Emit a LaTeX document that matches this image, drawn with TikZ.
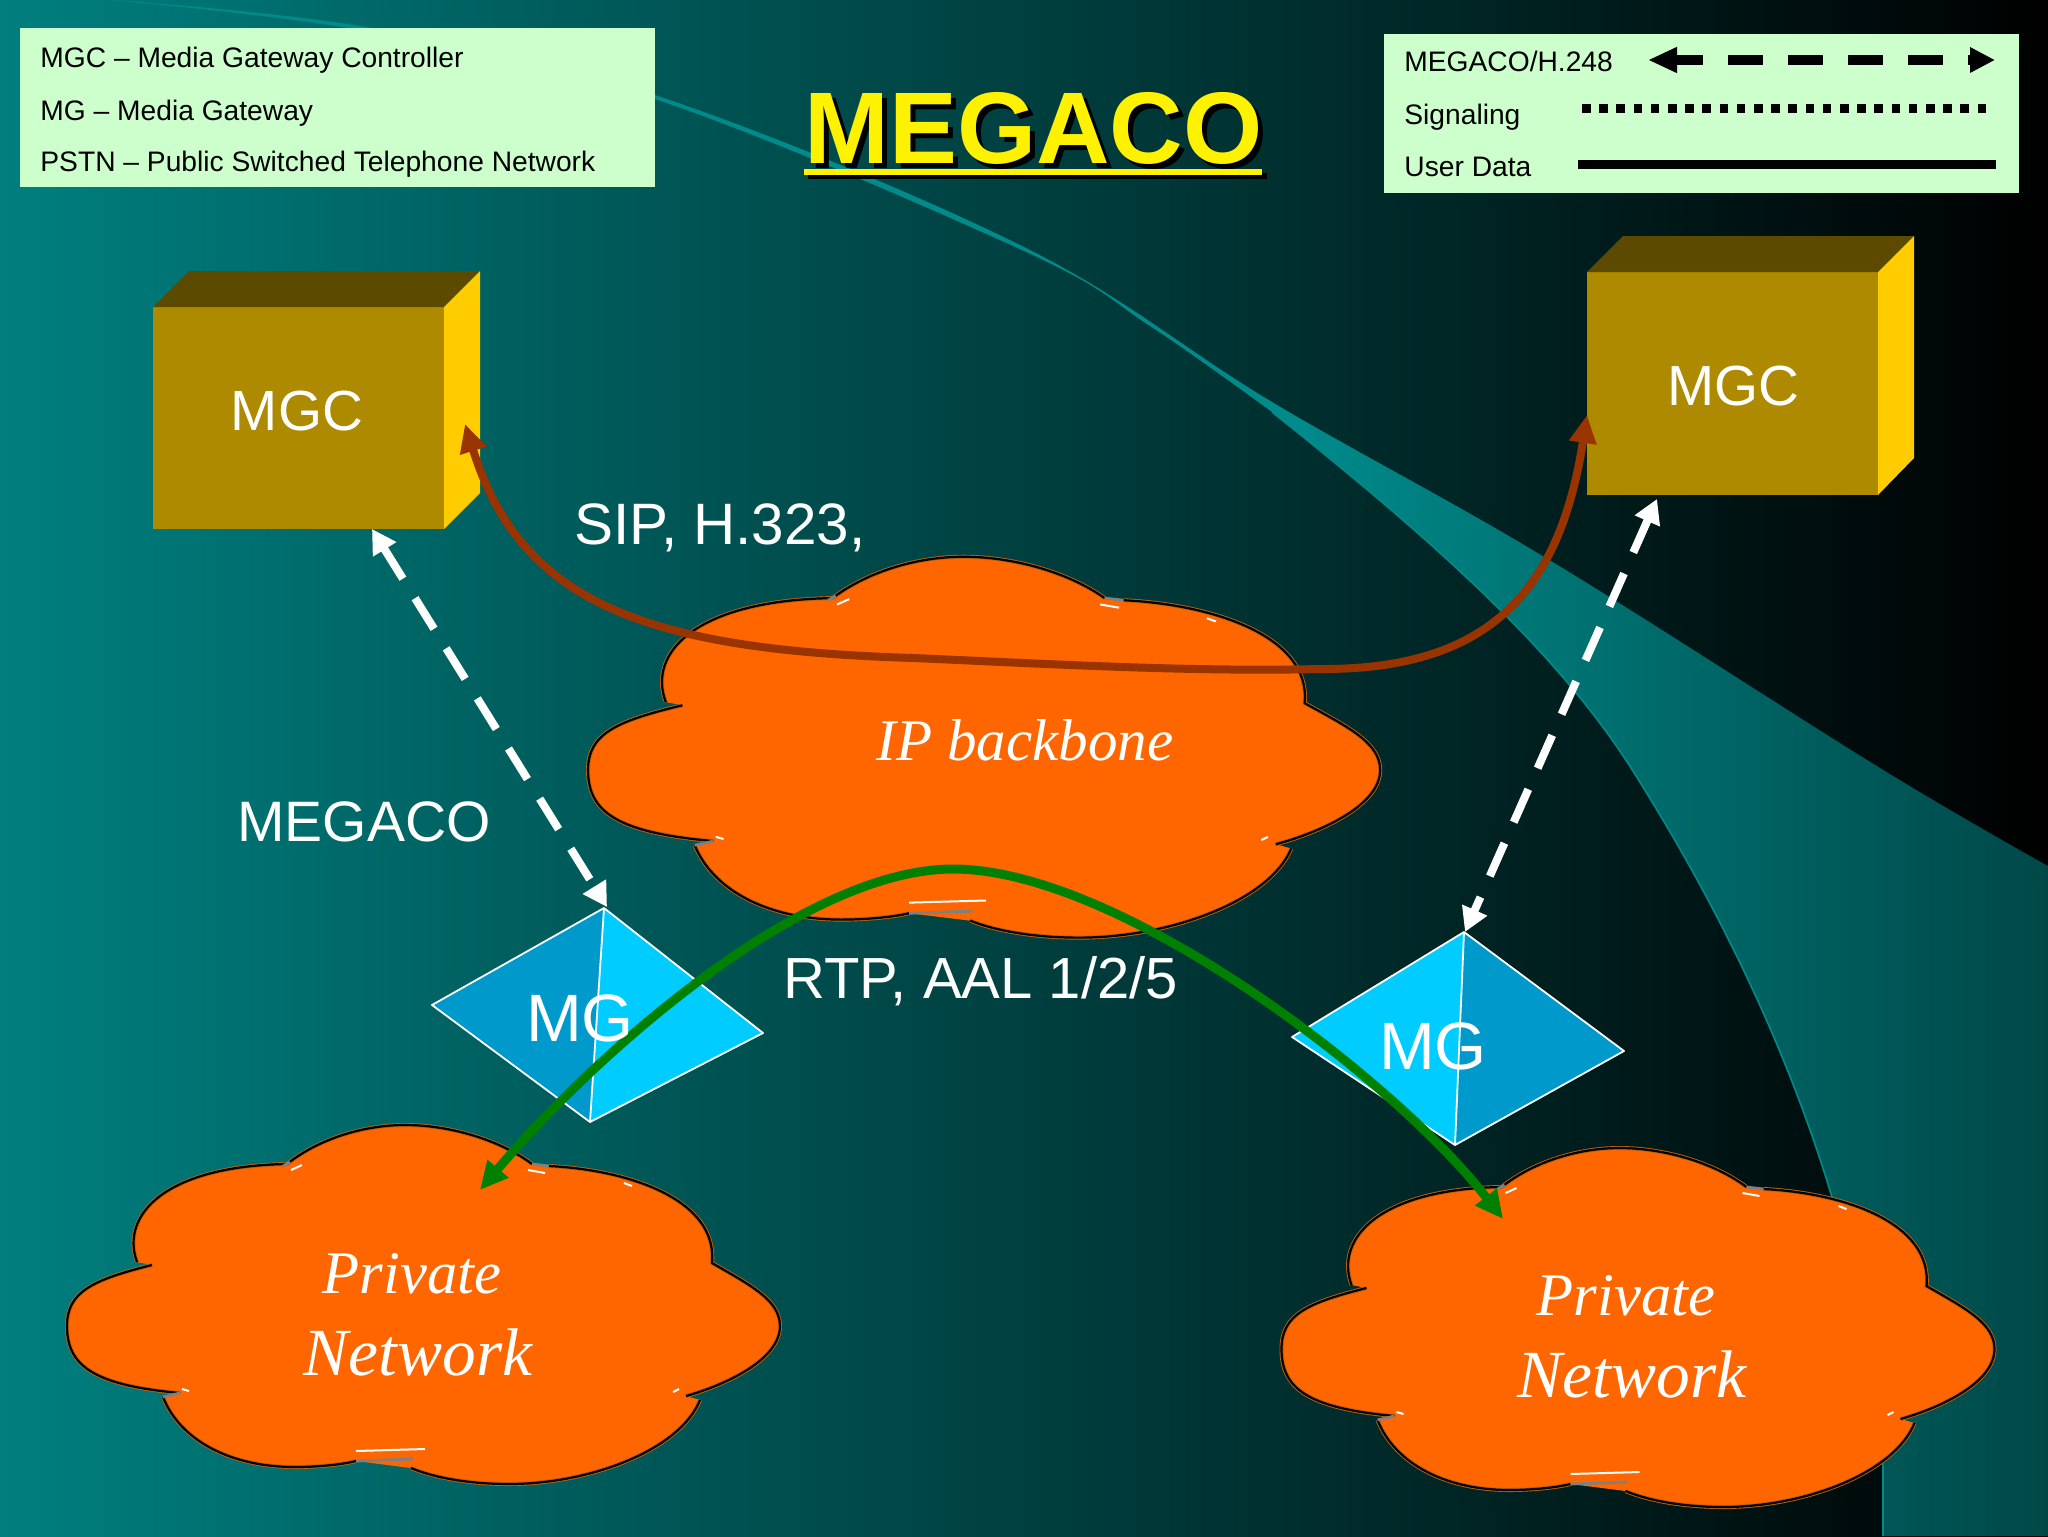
\documentclass[tikz,border=0pt]{standalone}
\usepackage{fontspec}
\setmainfont{Liberation Sans}
\newfontfamily\cloudfont{Liberation Serif}
\usetikzlibrary{arrows.meta}
\definecolor{bgL}{HTML}{007F7F}
\definecolor{bgM}{HTML}{00383C}
\definecolor{swA}{HTML}{008A8A}
\definecolor{swB}{HTML}{004848}
\definecolor{legendbg}{HTML}{CCFFCC}
\definecolor{boxfront}{HTML}{AD8A00}
\definecolor{boxtop}{HTML}{5C4A00}
\definecolor{boxside}{HTML}{FFCC00}
\definecolor{cloudfill}{HTML}{FF6600}
\definecolor{cloudedge}{HTML}{C06010}
\definecolor{faceA}{HTML}{0099CC}
\definecolor{faceB}{HTML}{00CCFF}
\definecolor{brownarrow}{HTML}{993300}
\definecolor{greenarrow}{HTML}{008000}
\pgfdeclarehorizontalshading{swsh}{100bp}{color(0bp)=(swA); color(55.8bp)=(swA); color(75bp)=(swB); color(100bp)=(swB)}
\def\cloudoutline#1{(287,1164) .. controls (320,1138) and (365,1125) .. (405,1125) .. controls (450,1125) and (500,1140) .. (532,1164)
  #1 (549,1166) .. controls (630,1170) and (718,1200) .. (712,1263)
  .. controls (750,1285) and (780,1300) .. (780,1326) .. controls (780,1360) and (725,1385) .. (686,1396)
  #1 (700,1400) .. controls (680,1450) and (590,1484) .. (509,1484) .. controls (470,1484) and (435,1478) .. (411,1468)
  #1 (356,1461) .. controls (340,1465) and (315,1467) .. (295,1467) .. controls (230,1467) and (180,1440) .. (163,1397)
  #1 (180,1393) .. controls (92,1385) and (67,1365) .. (67,1326) .. controls (67,1292) and (92,1280) .. (152,1265)
  #1 (137,1262) .. controls (120,1215) and (165,1166) .. (287,1164)}
\newcommand{\mycloud}[1]{%
  \begin{scope}[#1]
    \fill[cloudfill] \cloudoutline{--} -- cycle;
    \draw[cloudedge,line width=2pt] \cloudoutline{};
    \draw[black,line width=1.1pt] \cloudoutline{};
    \draw[gray,line width=1.4pt] (532,1164)--(549,1166) (356,1461)--(413,1459) (283,1166)--(290,1162) (163,1397)--(180,1393);
    \draw[white,line width=1pt] (291,1170)--(302,1165) (528,1170)--(545,1173) (624,1183)--(632,1186)
      (673,1392)--(679,1389) (182,1389)--(189,1391) (356,1451)--(425,1449);
  \end{scope}}
\tikzset{
  legtext/.style={font=\fontsize{14.1}{17}\selectfont,text=black,anchor=base west,inner sep=0pt},
  lab/.style={text=white,anchor=base west,inner sep=0pt},
  boxlab/.style={font=\fontsize{28.3}{32}\selectfont,text=white,anchor=base,inner sep=0pt},
  mglab/.style={font=\fontsize{33.5}{36}\selectfont,text=white,anchor=base,inner sep=0pt},
  privlab/.style={font=\cloudfont\itshape\fontsize{30.3}{34}\selectfont,text=white,anchor=base,inner sep=0pt},
  netlab/.style={font=\cloudfont\itshape\fontsize{33.7}{36}\selectfont,text=white,anchor=base,inner sep=0pt},
  iplab/.style={font=\cloudfont\itshape\fontsize{29.5}{34}\selectfont,text=white,anchor=base,inner sep=0pt},
  titlefont/.style={font=\bfseries\fontsize{50.9}{56}\selectfont,anchor=base west,inner sep=0pt},
  whitedash/.style={white,line width=4pt,dash pattern=on 18pt off 11.5pt,{Triangle[length=12pt,width=13pt]}-{Triangle[length=12pt,width=13pt]}},
  curved/.style={line width=#1,{Triangle[length=14pt,width=13pt]}-{Triangle[length=14pt,width=13pt]}},
  facet/.style={draw=white,line width=.9pt,line join=round},
}
\begin{document}
\begin{tikzpicture}[x=.5pt,y=-.5pt]
\useasboundingbox (0,0) rectangle (2048,1536);
\clip (0,0) rectangle (2048,1536);
% background
\shade[left color=bgL,middle color=bgM,right color=black] (0,0) rectangle (2048,1536);
% swoosh
\shade[shading=swsh] plot[smooth,tension=.6] coordinates {(100,-1) (366,27) (655,95) (1024,247) (1272,402) (1546,558) (1880,768) (2048,866)}
  -- (2048,1536) -- (1883,1536) -- (1883,1468)
  .. controls (1870,1290) and (1810,1050) .. (1631,768)
  .. controls (1552,644) and (1420,530) .. (1272,412)
  -- plot[smooth,tension=.6] coordinates {(1272,412) (1150,326) (1024,251) (655,99) (366,31) (100,-1)} -- cycle;
\draw[swA,line width=.8pt] (1883,1536) -- (1883,1468) .. controls (1870,1290) and (1810,1050) .. (1631,768) .. controls (1552,644) and (1420,530) .. (1272,412);
% legends
\fill[legendbg] (20,28) rectangle (655,187);
\node[legtext] (l1) at (40,68) {MGC – Media Gateway Controller};
\node[legtext] (l2) at (40,120) {MG – Media Gateway};
\node[legtext] (l3) at (40,171) {PSTN – Public Switched Telephone Network};
\fill[legendbg] (1384,34) rectangle (2019,193);
\node[legtext] (r1) at (1404,72) {MEGACO/H.248};
\node[legtext] (r2) at (1404,125) {Signaling};
\node[legtext] (r3) at (1404,176) {User Data};
\coordinate (da) at (1648,60); \coordinate (db) at (1995,60);
\draw[black,line width=5pt,dash pattern=on 17.5pt off 12.5pt,dash phase=3.5pt,{Triangle[length=14.5pt,width=12pt]}-{Triangle[length=12.5pt,width=12pt]}] (da) -- (db);
\coordinate (sa) at (1582,109); \coordinate (sb) at (1993,109);
\draw[black,line width=4.5pt,dash pattern=on 4.3pt off 4.3pt] (sa) -- (sb);
\coordinate (ua) at (1578,164); \coordinate (ub) at (1996,164);
\draw[black,line width=4.5pt] (ua) -- (ub);
% title
\fill[black] (808,173) rectangle (1267,179);
\fill[yellow] (804,169) rectangle (1262,175);
\node[titlefont,text=black] (titleshadow) at (809,168) {MEGACO};
\node[titlefont,text=yellow] (title) at (804,163) {MEGACO};
% MGC boxes
\fill[boxfront] (153,307) rectangle (444,529);
\fill[boxtop] (153,307) -- (189,271) -- (480,271) -- (444,307) -- cycle;
\fill[boxside] (444,307) -- (480,271) -- (480,493) -- (444,529) -- cycle;
\node[boxlab] (mgcL) at (297,430) {MGC};
\fill[boxfront] (1587,272) rectangle (1878,495);
\fill[boxtop] (1587,272) -- (1623,236) -- (1914,236) -- (1878,272) -- cycle;
\fill[boxside] (1878,272) -- (1914,236) -- (1914,458) -- (1878,495) -- cycle;
\node[boxlab] (mgcR) at (1733,405) {MGC};
% clouds
\mycloud{shift={(513.6,-636.9)},xscale=1.111,yscale=1.061}
\mycloud{}
\mycloud{shift={(1214.5,23)}}
\node[iplab] (ip) at (1025,760) {IP backbone};
\node[privlab] (p1) at (412,1293) {Private};
\node[netlab] (n1) at (418,1375) {Network};
\node[privlab] (p2) at (1626,1315) {Private};
\node[netlab] (n2) at (1632,1397) {Network};
% labels
\node[lab,font=\fontsize{29.2}{32}\selectfont] (sip) at (574,544) {SIP, H.323,};
\node[lab,font=\fontsize{28.5}{32}\selectfont] (meg) at (237,841) {MEGACO};
\node[lab,font=\fontsize{29}{32}\selectfont] (rtp) at (783,998) {RTP, AAL 1/2/5};
% MG facets
\coordinate (mgLt) at (604,908); \coordinate (mgLb) at (590,1122);
\coordinate (mgRt) at (1464,932); \coordinate (mgRb) at (1455,1145);
\fill[faceA] (mgLt) -- (432,1005) -- (mgLb) -- cycle;
\fill[faceB] (mgLt) -- (763,1033) -- (mgLb) -- cycle;
\draw[facet] (mgLt) -- (432,1005) -- (mgLb) -- (763,1033) -- cycle (mgLt) -- (mgLb);
\fill[faceB] (mgRt) -- (1292,1037) -- (mgRb) -- cycle;
\fill[faceA] (mgRt) -- (1624,1051) -- (mgRb) -- cycle;
\draw[facet] (mgRt) -- (1292,1037) -- (mgRb) -- (1624,1051) -- cycle (mgRt) -- (mgRb);
% connectors
\coordinate (bL) at (465,424); \coordinate (bM1) at (914,658); \coordinate (bM2) at (1320,669); \coordinate (bR) at (1587,415);
\draw[brownarrow,curved=4pt] (bL) .. controls (520,600) and (640,650) .. (bM1) .. controls (1050,664) and (1190,672) .. (bM2) .. controls (1490,670) and (1560,590) .. (bR);
\coordinate (gL) at (480,1190); \coordinate (gM) at (953,869); \coordinate (gR) at (1503,1219);
\draw[greenarrow,curved=4.5pt] (gL) .. controls (590,1060) and (800,869) .. (gM) .. controls (1120,869) and (1395,1080) .. (gR);
\coordinate (wL1) at (372,529); \coordinate (wL2) at (607,907);
\draw[whitedash] (wL1) -- (wL2);
\coordinate (wR1) at (1657,499); \coordinate (wR2) at (1465,932);
\draw[whitedash] (wR1) -- (wR2);
\node[mglab] (mg1) at (580,1041) {MG};
\node[mglab] (mg2) at (1433,1069) {MG};
\end{tikzpicture}
\end{document}
